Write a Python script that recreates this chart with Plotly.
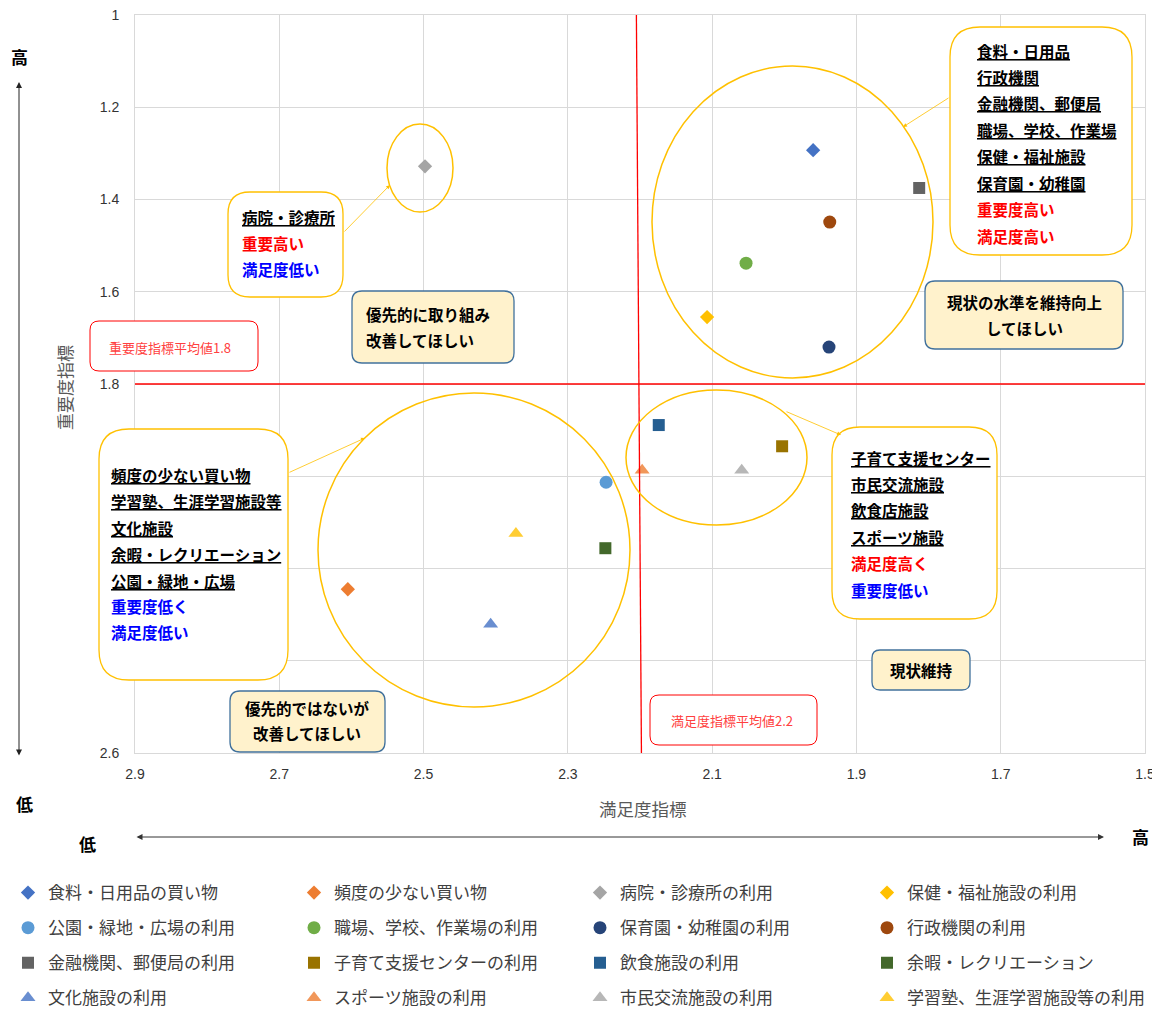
import plotly.graph_objects as go

# ---- data ----
names = [
    "食料・日用品の買い物", "頻度の少ない買い物", "病院・診療所の利用", "保健・福祉施設の利用",
    "公園・緑地・広場の利用", "職場、学校、作業場の利用", "保育園・幼稚園の利用", "行政機関の利用",
    "金融機関、郵便局の利用", "子育て支援センターの利用", "飲食施設の利用", "余暇・レクリエーション",
    "文化施設の利用", "スポーツ施設の利用", "市民交流施設の利用", "学習塾、生涯学習施設等の利用",
]
satisfaction = [1.96, 2.605, 2.498, 2.107, 2.247, 2.053, 1.938, 1.937,
                1.813, 2.003, 2.174, 2.248, 2.407, 2.197, 2.059, 2.372]
importance = [1.293, 2.245, 1.328, 1.655, 2.013, 1.538, 1.72, 1.449,
              1.375, 1.935, 1.889, 2.156, 2.321, 1.987, 1.987, 2.124]
x_ticks = [2.9, 2.7, 2.5, 2.3, 2.1, 1.9, 1.7, 1.5]
y_ticks = [1, 1.2, 1.4, 1.6, 1.8, 2, 2.2, 2.4, 2.6]
y_tick_text = ["1", "1.2", "1.4", "1.6", "1.8", "", "", "", "2.6"]  # 2〜2.4 sit behind the callout
sat_avg = 2.2
imp_avg = 1.8

colors = ["#4472C4", "#ED7D31", "#A5A5A5", "#FFC000",
          "#5B9BD5", "#70AD47", "#264478", "#9E480E",
          "#636363", "#997300", "#255E91", "#43682B",
          "#698ED0", "#F1975A", "#B7B7B7", "#FFCD33"]
symbols = ["diamond"] * 4 + ["circle"] * 4 + ["square"] * 4 + ["triangle-up"] * 4
sizes = [11] * 4 + [13] * 4 + [12] * 4 + [13] * 4

FONT = "Noto Sans CJK JP"
# plot area in reference pixels; the page body adds an 8px margin, so the figure is 8px smaller
L, T, W, H = 135, 15, 1010, 738
PAGE = 8
FIG_W, FIG_H = 1160 - PAGE, 1010 - PAGE


def px(x):
    return (x - L) / W


def py(y):
    return (T + H - y) / H


fig = go.Figure()

# legend is laid out in 4 columns, one legend per column
for i, n in enumerate(names):
    col = i % 4
    fig.add_trace(go.Scatter(
        x=[satisfaction[i]], y=[importance[i]], mode="markers", name=n,
        marker=dict(symbol=symbols[i], color=colors[i], size=sizes[i]),
        legend="legend" if col == 0 else f"legend{col + 1}",
        legendgroup=f"g{i}",
        hoverinfo="name",
    ))

shapes = []


def rbox(x0, y0, x1, y1, r, line, fill, width=1.3):
    X0, X1, Y0, Y1 = px(x0), px(x1), py(y0), py(y1)
    rx, ry = r / W, r / H
    path = (f"M{X0 + rx},{Y0} L{X1 - rx},{Y0} Q{X1},{Y0} {X1},{Y0 - ry} "
            f"L{X1},{Y1 + ry} Q{X1},{Y1} {X1 - rx},{Y1} L{X0 + rx},{Y1} "
            f"Q{X0},{Y1} {X0},{Y1 + ry} L{X0},{Y0 - ry} Q{X0},{Y0} {X0 + rx},{Y0} Z")
    shapes.append(dict(type="path", path=path, xref="paper", yref="paper",
                       line=dict(color=line, width=width), fillcolor=fill, layer="above"))


def ellipse(x0, y0, x1, y1):
    shapes.append(dict(type="circle", xref="paper", yref="paper",
                       x0=px(x0), x1=px(x1), y0=py(y1), y1=py(y0),
                       line=dict(color="#FFC000", width=1.5), layer="above"))


# average lines
shapes.append(dict(type="line", xref="paper", yref="y", x0=0, x1=1, y0=imp_avg, y1=imp_avg,
                   line=dict(color="#FF0000", width=1.3), layer="above"))
shapes.append(dict(type="line", xref="x", yref="y", x0=sat_avg + 0.005, x1=sat_avg - 0.002,
                   y0=1, y1=2.6, line=dict(color="#FF0000", width=1.3), layer="above"))

ellipse(387, 124, 453, 212)
ellipse(652, 66, 933, 378)
ellipse(318, 393, 630, 707)
ellipse(626, 390, 807, 525)

YEL = "#FFC000"
NAVY = "#41719C"
CREAM = "#FFF2CC"
RED_T = "#FF4040"
rbox(228, 192, 343, 297, 22, YEL, "white")
rbox(950, 27, 1132, 255, 30, YEL, "white")
rbox(99, 429, 288, 680, 30, YEL, "white")
rbox(832, 427, 997, 619, 28, YEL, "white")
rbox(352, 291, 514, 363, 10, NAVY, CREAM)
rbox(925, 281, 1123, 349, 10, NAVY, CREAM)
rbox(230, 691, 385, 752, 10, NAVY, CREAM)
rbox(872, 650, 970, 690, 8, NAVY, CREAM)
rbox(90, 321, 258, 371, 9, "#FF0000", "white", 1.0)
rbox(650, 695, 817, 745, 9, "#FF0000", "white", 1.0)

annotations = []


def txt(x, y, s, size=15.5, color="black", anchor="left", bold=True, angle=0):
    annotations.append(dict(
        x=px(x), y=py(y), xref="paper", yref="paper", showarrow=False,
        text=f"<b>{s}</b>" if bold else s, xanchor=anchor, yanchor="middle",
        textangle=angle, font=dict(size=size, color=color, family=FONT)))


def arrow(hx, hy, tx, ty, color, width=0.8, both=False, size=1.0):
    annotations.append(dict(
        x=px(hx), y=py(hy), xref="paper", yref="paper", axref="pixel", ayref="pixel",
        ax=tx - hx, ay=ty - hy, text="", showarrow=True, arrowhead=2, startarrowhead=2,
        arrowsize=size, startarrowsize=size, arrowwidth=width, arrowcolor=color,
        arrowside="end+start" if both else "end", standoff=0, startstandoff=0))


RED = "#FF0000"
BLUE = "#0000FF"

for s, c, y in [("<u>病院・診療所</u>", "black", 217), ("重要高い", RED, 243), ("満足度低い", BLUE, 269)]:
    txt(240, y, s, color=c)

for s, c, y in [("<u>食料・日用品</u>", "black", 51), ("<u>行政機関</u>", "black", 77),
                ("<u>金融機関、郵便局</u>", "black", 103), ("<u>職場、学校、作業場</u>", "black", 130),
                ("<u>保健・福祉施設</u>", "black", 156), ("<u>保育園・幼稚園</u>", "black", 183),
                ("重要度高い", RED, 209), ("満足度高い", RED, 236)]:
    txt(975, y, s, color=c)

for s, c, y in [("<u>頻度の少ない買い物</u>", "black", 475), ("<u>学習塾、生涯学習施設等</u>", "black", 501),
                ("<u>文化施設</u>", "black", 528), ("<u>余暇・レクリエーション</u>", "black", 554),
                ("<u>公園・緑地・広場</u>", "black", 581), ("重要度低く", BLUE, 606),
                ("満足度低い", BLUE, 632)]:
    txt(109, y, s, color=c)

for s, c, y in [("<u>子育て支援センター</u>", "black", 458), ("<u>市民交流施設</u>", "black", 484),
                ("<u>飲食店施設</u>", "black", 510), ("<u>スポーツ施設</u>", "black", 537),
                ("満足度高く", RED, 563), ("重要度低い", BLUE, 590)]:
    txt(849, y, s, color=c)

txt(364, 314, "優先的に取り組み")
txt(364, 340, "改善してほしい")
txt(1024, 302, "現状の水準を維持向上", anchor="center")
txt(1024, 328, "してほしい", anchor="center")
txt(307, 708, "優先的ではないが", anchor="center")
txt(307, 733, "改善してほしい", anchor="center")
txt(921, 670, "現状維持", anchor="center")
txt(170, 347, "重要度指標平均値1.8", size=13, color=RED_T, anchor="center", bold=False)
txt(732, 720, "満足度指標平均値2.2", size=13, color=RED_T, anchor="center", bold=False)

# axis titles and direction markers
txt(643, 808, "満足度指標", size=17.5, color="#595959", anchor="center", bold=False)
txt(64, 388, "重要度指標", size=17, color="#595959", anchor="center", bold=False, angle=-90)
txt(19, 57, "高", size=17, anchor="center")
txt(24, 803, "低", size=17, anchor="center")
txt(87, 843, "低", size=17, anchor="center")
txt(1140, 836, "高", size=17, anchor="center")

arrow(19, 82, 19, 757, "#222222", width=1, both=True, size=1.2)
arrow(1104, 837, 135, 837, "#333333", width=1, both=True, size=1.2)

arrow(390, 185, 343, 233, YEL)
arrow(903, 127, 950, 97, YEL)
arrow(365, 438, 288, 473, YEL)
arrow(841, 435, 785, 411, YEL)

legend_style = dict(orientation="v", yanchor="middle", xanchor="left", y=py(945.5),
                    tracegroupgap=10, bgcolor="rgba(0,0,0,0)",
                    font=dict(size=17, color="#404040", family=FONT), itemclick=False,
                    itemdoubleclick=False)
legends = {}
for c, lx in enumerate([8, 294, 580, 867]):
    key = "legend" if c == 0 else f"legend{c + 1}"
    legends[key] = dict(legend_style, x=px(lx))

fig.update_layout(
    width=FIG_W, height=FIG_H,
    margin=dict(l=L - PAGE, r=FIG_W - (L - PAGE) - W, t=T - PAGE,
                b=FIG_H - (T - PAGE) - H, autoexpand=False),
    paper_bgcolor="white", plot_bgcolor="white",
    showlegend=True,
    font=dict(family=FONT),
    shapes=shapes, annotations=annotations,
    xaxis=dict(range=[2.9, 1.5], tickvals=x_ticks, showgrid=True, gridcolor="#D9D9D9",
               zeroline=False, showline=True, mirror=True, linecolor="#D9D9D9",
               tickfont=dict(size=14, color="#333333", family="Liberation Sans"),
               ticklabelstandoff=8, ticklabeloverflow="allow"),
    yaxis=dict(range=[2.6, 1], tickvals=y_ticks, ticktext=y_tick_text, showgrid=True,
               gridcolor="#D9D9D9", zeroline=False, showline=True, mirror=True,
               linecolor="#D9D9D9",
               tickfont=dict(size=14, color="#333333", family="Liberation Sans"),
               ticklabelstandoff=12, ticklabeloverflow="allow"),
    **legends,
)

fig.write_html("out.html")
